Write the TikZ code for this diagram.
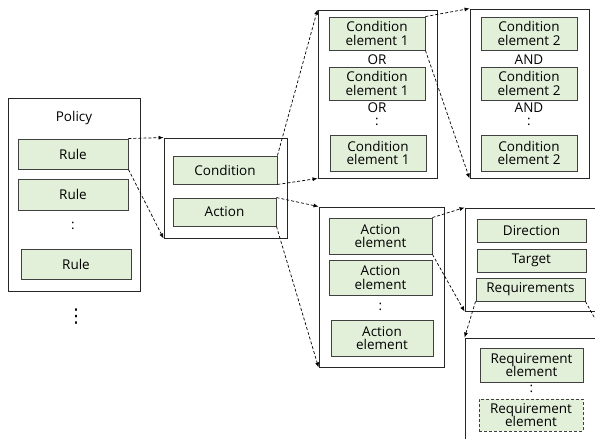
\documentclass[tikz,border=0pt]{standalone}
\usepackage{fontspec}
\setmainfont{Open Sans}
\newfontfamily\dejavu{DejaVu Sans}
\usetikzlibrary{arrows.meta}
\definecolor{elemfill}{HTML}{E2EFD9}
\definecolor{elemline}{HTML}{404040}
\begin{document}
\begin{tikzpicture}[x=1pt,y=-1pt,
  elem/.style={draw=elemline, fill=elemfill, line width=0.9pt, inner sep=0pt, align=center,
    font=\fontsize{13.5}{13.5}\selectfont},
  grp/.style={draw=black!85, line width=0.9pt, inner sep=0pt},
  lbl/.style={inner sep=0pt, font=\fontsize{13.5}{13.5}\selectfont},
  conn/.style={dash pattern=on 3pt off 2pt, line width=0.7pt, -{Latex[length=5pt,width=4pt]}}]
\useasboundingbox (0,0) rectangle (595,439);
\clip (0,0) rectangle (595,439);
% Policy
\node[grp, minimum width=132, minimum height=193] (policy) at (74,194.5) {};
\node[lbl] (policylbl) at (74,118) {Policy};
\node[elem, minimum width=110, minimum height=30] (rule1) at (73,154) {Rule};
\node[elem, minimum width=110, minimum height=31] (rule2) at (73,194.5) {Rule};
\node[lbl] (rdots) at (73,226) {:};
\node[elem, minimum width=110, minimum height=30] (rule3) at (76,264) {Rule};
\node[inner sep=0pt, font=\dejavu\fontsize{19}{19}\selectfont] (pdots) at (76,317) {⋮};
% Rule detail
\node[grp, minimum width=123, minimum height=100] (mid) at (225.5,188) {};
\node[elem, minimum width=104, minimum height=28] (cond) at (225,170) {Condition};
\node[elem, minimum width=103, minimum height=28] (act) at (224.5,212) {Action};
% Condition group 1
\node[grp, minimum width=119, minimum height=168] (cgrp) at (377.5,94) {};
\node[elem, minimum width=96, minimum height=33] (ce1a) at (377,33.5) {Condition\\element 1};
\node[lbl] (or1) at (377,59.5) {OR};
\node[elem, minimum width=96, minimum height=33] (ce1b) at (377,83.5) {Condition\\element 1};
\node[lbl] (or2) at (377,107.5) {OR};
\node[lbl] (cd1) at (377,122) {:};
\node[elem, minimum width=96, minimum height=36] (ce1c) at (378,153) {Condition\\element 1};
% Condition group 2
\node[grp, minimum width=119, minimum height=169] (c2grp) at (529.5,93.5) {};
\node[elem, minimum width=96, minimum height=33] (ce2a) at (529,33.5) {Condition\\element 2};
\node[lbl] (and1) at (529,59.5) {AND};
\node[elem, minimum width=96, minimum height=33] (ce2b) at (529,83.5) {Condition\\element 2};
\node[lbl] (and2) at (529,107.5) {AND};
\node[lbl] (cd2) at (529,122) {:};
\node[elem, minimum width=96, minimum height=36] (ce2c) at (529,153) {Condition\\element 2};
% Action group
\node[grp, minimum width=125, minimum height=160] (agrp) at (381.5,287) {};
\node[elem, minimum width=103, minimum height=36] (ae1) at (380.5,236) {Action\\element};
\node[elem, minimum width=103, minimum height=35] (ae2) at (380.5,277.5) {Action\\element};
\node[lbl] (ad) at (380.5,307) {:};
\node[elem, minimum width=102, minimum height=36] (ae3) at (382,338) {Action\\element};
% Action element detail
\node[grp, minimum width=140, minimum height=103] (dgrp) at (535,259.5) {};
\node[elem, minimum width=109, minimum height=23] (dir) at (531.5,230.5) {Direction};
\node[elem, minimum width=109, minimum height=23] (tgt) at (531.5,260.5) {Target};
\node[elem, minimum width=109, minimum height=23] (req) at (530.5,289.5) {Requirements};
% Requirements detail
\node[grp, minimum width=140, minimum height=112] (rgrp) at (535,394) {};
\node[elem, minimum width=103, minimum height=34] (re1) at (531.5,365) {Requirement\\element};
\node[lbl] (red) at (531.5,389) {:};
\node[elem, dash pattern=on 3pt off 2pt, minimum width=104, minimum height=32] (re2) at (531,415) {Requirement\\element};
% connectors
\draw[conn] (rule1.north east) -- (mid.north west);
\draw[conn] (rule1.south east) -- (mid.south west);
\draw[conn] (cond.north east) -- (cgrp.north west);
\draw[conn] (cond.south east) -- (cgrp.south west);
\draw[conn] (ce1a.north east) -- (c2grp.north west);
\draw[conn] (ce1a.south east) -- (c2grp.south west);
\draw[conn] (act.north east) -- (agrp.north west);
\draw[conn] (act.south east) -- (agrp.south west);
\draw[conn] (ae1.north east) -- (dgrp.north west);
\draw[conn] (ae1.south east) -- (dgrp.south west);
\draw[conn] (req.south west) -- (rgrp.north west);
\draw[conn] (req.south east) -- (rgrp.north east);
\end{tikzpicture}
\end{document}
